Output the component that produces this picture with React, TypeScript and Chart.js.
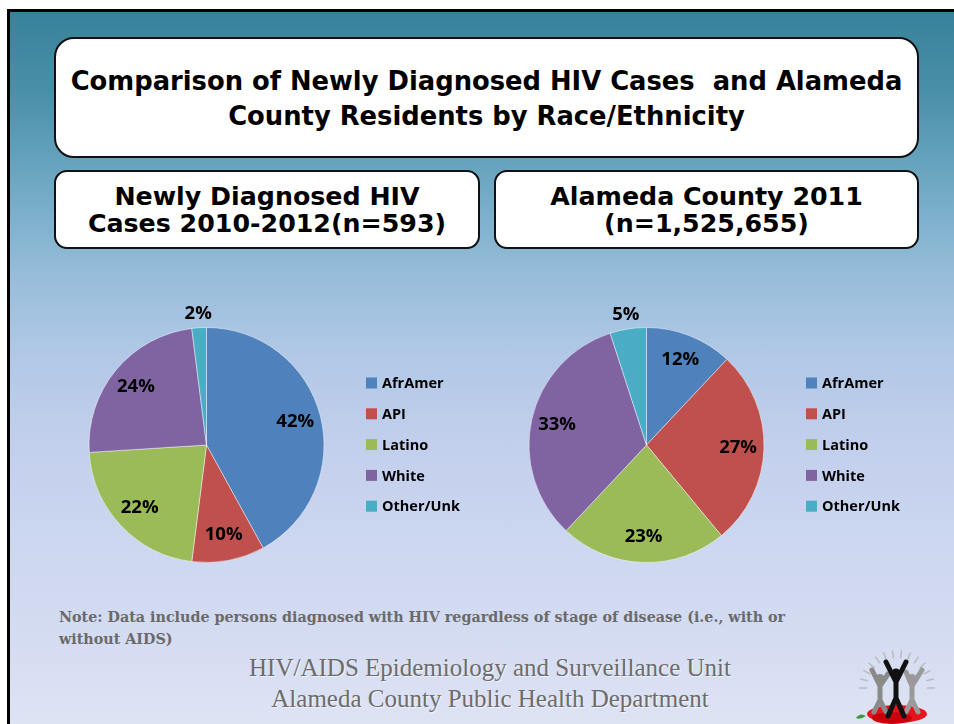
import React, { useEffect, useRef } from 'react';
import { Chart, registerables } from 'chart.js';

Chart.register(...registerables);

const categories = ['AfrAmer', 'API', 'Latino', 'White', 'Other/Unk'];
const hivValues = [42, 10, 22, 24, 2];
const countyValues = [12, 27, 23, 33, 5];
const sliceColors = ['#4F81BD', '#C0504D', '#9BBB59', '#8064A2', '#4BACC6'];

const mainTitle = ['Comparison of Newly Diagnosed HIV Cases  and Alameda', 'County Residents by Race/Ethnicity'];
const leftTitle = ['Newly Diagnosed HIV', 'Cases 2010-2012(n=593)'];
const rightTitle = ['Alameda County 2011', '(n=1,525,655)'];
const noteLines = ['Note: Data include persons diagnosed with HIV regardless of stage of disease (i.e., with or', 'without AIDS)'];
const footer = ['HIV/AIDS Epidemiology and Surveillance Unit', 'Alameda County Public Health Department'];

const LABEL_FONT = '"Open Sans", "DejaVu Sans", sans-serif';

const pctLabels = {
  id: 'pctLabels',
  afterDatasetsDraw(chart: any) {
    const ctx = chart.ctx;
    const meta = chart.getDatasetMeta(0);
    const data = chart.data.datasets[0].data as number[];
    ctx.save();
    ctx.font = 'bold 18.5px ' + LABEL_FONT;
    ctx.fillStyle = '#000';
    ctx.textAlign = 'center';
    ctx.textBaseline = 'middle';
    meta.data.forEach((arc: any, i: number) => {
      const p = arc.getProps(['x', 'y', 'startAngle', 'endAngle', 'outerRadius'], true);
      const mid = (p.startAngle + p.endAngle) / 2;
      const v = data[i];
      const r = v <= 5 ? p.outerRadius * 1.12 : p.outerRadius * 0.78;
      ctx.fillText(v + '%', p.x + Math.cos(mid) * r, p.y + Math.sin(mid) * r);
    });
    ctx.restore();
  },
};

const sideLegend = {
  id: 'sideLegend',
  afterDraw(chart: any, _args: any, opts: any) {
    const ctx = chart.ctx;
    const ds = chart.data.datasets[0];
    ctx.save();
    ctx.font = 'bold 14.5px ' + LABEL_FONT;
    ctx.textBaseline = 'middle';
    ctx.textAlign = 'left';
    (chart.data.labels as string[]).forEach((lab, i) => {
      const y = opts.y + i * opts.gap;
      ctx.fillStyle = ds.backgroundColor[i];
      ctx.fillRect(opts.x, y - 5.5, 11, 11);
      ctx.fillStyle = '#000';
      ctx.fillText(lab, opts.x + 16, y + 1);
    });
    ctx.restore();
  },
};

function PieChart({ values, left, top }: { values: number[]; left: number; top: number }) {
  const ref = useRef<HTMLCanvasElement>(null);
  useEffect(() => {
    if (!ref.current) return;
    const chart = new Chart(ref.current, {
      type: 'pie',
      data: {
        labels: categories,
        datasets: [
          {
            data: values,
            backgroundColor: sliceColors,
            borderColor: 'rgba(255,255,255,0.45)',
            borderWidth: 1,
          },
        ],
      },
      options: {
        responsive: false,
        maintainAspectRatio: false,
        animation: false,
        layout: { padding: { left: 28, right: 155, top: 37, bottom: 27 } },
        plugins: {
          legend: { display: false },
          tooltip: { enabled: false },
          sideLegend: { x: 306, y: 93, gap: 30.8 },
        } as any,
      },
      plugins: [pctLabels, sideLegend],
    });
    return () => chart.destroy();
  }, []);
  return (
    <canvas
      ref={ref}
      width={420}
      height={300}
      style={{ position: 'absolute', left, top, width: 420, height: 300 }}
    />
  );
}

const boxStyle: React.CSSProperties = {
  position: 'absolute',
  background: '#fff',
  border: '2.5px solid #111',
  boxSizing: 'border-box',
  display: 'flex',
  flexDirection: 'column',
  alignItems: 'center',
  justifyContent: 'center',
  fontFamily: '"DejaVu Sans", sans-serif',
  fontWeight: 'bold',
  color: '#000',
  whiteSpace: 'pre',
};

function Logo() {
  return (
    <svg width={90} height={80} viewBox="0 0 90 80" style={{ position: 'absolute', left: 852, top: 646 }}>
      {[...Array(14)].map((_, i) => {
        const a = Math.PI + (i / 13) * Math.PI;
        const cx = 45, cy = 42;
        return (
          <line key={i} x1={cx + Math.cos(a) * 30} y1={cy + Math.sin(a) * 30} x2={cx + Math.cos(a) * 38} y2={cy + Math.sin(a) * 38}
            stroke="#bbb" strokeWidth={1.5} />
        );
      })}
      <ellipse cx={45} cy={68} rx={30} ry={9} fill="#e8121c" />
      <ellipse cx={40} cy={72} rx={20} ry={6} fill="#c8000c" />
      <path d="M14 70 q-6 4 -10 2 q4 -6 10 -2z" fill="#3c9a3c" />
      <g stroke="#8a8a8a" strokeWidth={5} strokeLinecap="round" fill="none">
        <path d="M28 40 L20 24 M28 40 L36 28 M28 40 L28 54 L22 66 M28 54 L34 66" />
      </g>
      <circle cx={28} cy={32} r={4} fill="#8a8a8a" />
      <g stroke="#9a9a9a" strokeWidth={5} strokeLinecap="round" fill="none">
        <path d="M60 40 L54 26 M60 40 L70 24 M60 40 L60 54 L54 66 M60 54 L66 66" />
      </g>
      <circle cx={60} cy={32} r={4} fill="#9a9a9a" />
      <g stroke="#111" strokeWidth={5} strokeLinecap="round" fill="none">
        <path d="M44 36 L34 16 M44 36 L54 16 M44 36 L44 52 L36 70 M44 52 L52 70" />
      </g>
      <circle cx={44} cy={27} r={4.5} fill="#111" />
    </svg>
  );
}

export default function App() {
  return (
    <div style={{ position: 'fixed', left: 0, top: 0, width: 954, height: 724, overflow: 'hidden', background: '#fff' }}>
      <div
        style={{
          position: 'absolute',
          left: 7,
          top: 9,
          width: 1000,
          height: 800,
          border: '3px solid #000',
          background:
            'linear-gradient(to bottom, #37829a 0px, #4a8fa8 80px, #6ea8c3 170px, #95bcd9 260px, #b0c8e6 340px, #c2cfec 430px, #cdd7f0 540px, #d6ddf2 640px, #dfe4f4 720px)',
        }}
      />
      <div style={{ ...boxStyle, left: 54, top: 37, width: 865, height: 121, borderRadius: 20, fontSize: 25.8, lineHeight: '35px', paddingTop: 3 }}>
        {mainTitle.map((t, i) => (
          <div key={i}>{t}</div>
        ))}
      </div>
      <div style={{ ...boxStyle, left: 54, top: 170, width: 426, height: 79, borderRadius: 13, fontSize: 25.3, lineHeight: '27px' }}>
        {leftTitle.map((t, i) => (
          <div key={i}>{t}</div>
        ))}
      </div>
      <div style={{ ...boxStyle, left: 494, top: 170, width: 425, height: 79, borderRadius: 13, fontSize: 25.3, lineHeight: '27px' }}>
        {rightTitle.map((t, i) => (
          <div key={i}>{t}</div>
        ))}
      </div>
      <PieChart values={hivValues} left={60} top={290} />
      <PieChart values={countyValues} left={500} top={290} />
      <div
        style={{
          position: 'absolute',
          left: 59,
          top: 606,
          fontFamily: '"DejaVu Serif", serif',
          fontWeight: 'bold',
          fontSize: 14.3,
          lineHeight: '22px',
          color: '#6a6a6a',
          whiteSpace: 'pre',
        }}
      >
        {noteLines.map((t, i) => (
          <div key={i}>{t}</div>
        ))}
      </div>
      <div
        style={{
          position: 'absolute',
          left: 190,
          top: 652,
          width: 600,
          textAlign: 'center',
          fontFamily: '"Liberation Serif", serif',
          fontSize: 25,
          lineHeight: '31px',
          color: '#6c6c6c',
          textShadow: '1px 1px 0 rgba(255,255,255,0.6)',
        }}
      >
        {footer.map((t, i) => (
          <div key={i}>{t}</div>
        ))}
      </div>
      <Logo />
    </div>
  );
}
